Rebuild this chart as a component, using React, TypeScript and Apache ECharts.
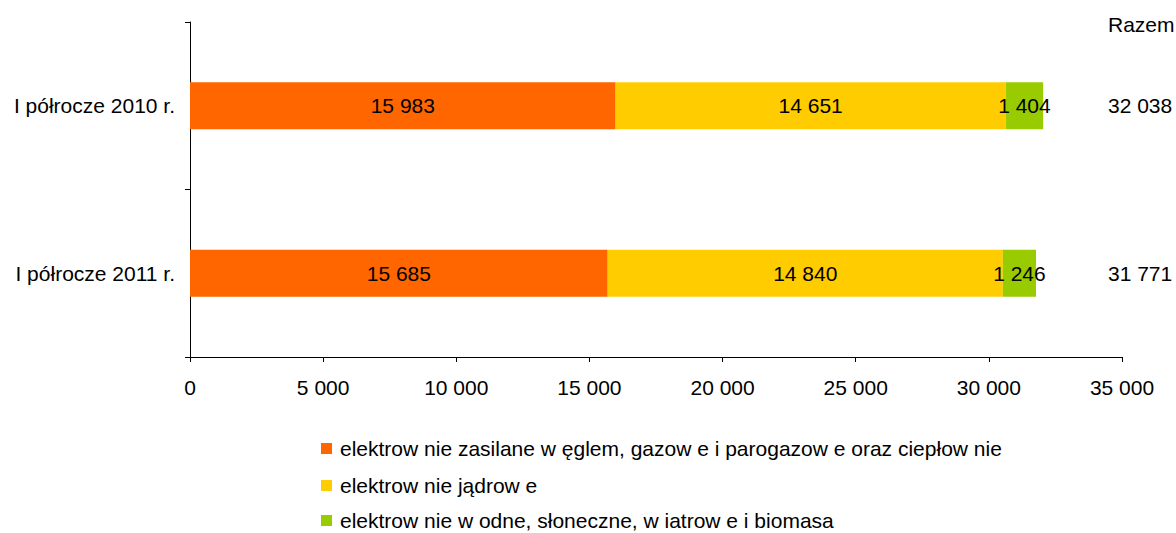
import React, { useEffect, useRef } from "react";
import * as echarts from "echarts";

const categories = ["I półrocze 2010 r.", "I półrocze 2011 r."];
const seriesNames = [
  "elektrow nie zasilane w ęglem, gazow e i parogazow e oraz ciepłow nie",
  "elektrow nie jądrow e",
  "elektrow nie w odne, słoneczne, w iatrow e i biomasa",
];
const thermal = [15983, 15685];
const nuclear = [14651, 14840];
const renewable = [1404, 1246];
const totals = [32038, 31771];
const colors = ["#FF6600", "#FFCC00", "#99CC00"];
const totalTitle = "Razem";

const fmt = (v: number) => String(v).replace(/\B(?=(\d{3})+(?!\d))/g, " ");
const FONT = "Liberation Sans, Arial, sans-serif";
const FS = 21;
const legendTops = [438, 475, 510];

export default function App() {
  const ref = useRef<HTMLDivElement>(null);
  useEffect(() => {
    if (!ref.current) return;
    const chart = echarts.init(ref.current, null, { renderer: "svg" });
    const values = [thermal, nuclear, renewable];
    chart.setOption({
      animation: false,
      textStyle: { fontFamily: FONT },
      grid: { left: 190, right: 54, top: 22, bottom: 176, containLabel: false },
      xAxis: {
        type: "value",
        min: 0,
        max: 35000,
        interval: 5000,
        axisLine: { show: true, lineStyle: { color: "#000", width: 1 } },
        axisTick: { show: true, length: 5, lineStyle: { color: "#000" } },
        splitLine: { show: false },
        axisLabel: { color: "#000", fontSize: FS, margin: 20, formatter: (v: number) => fmt(v), fontFamily: FONT },
      },
      yAxis: [
        {
          type: "category",
          data: categories,
          inverse: true,
          axisLine: { show: true, lineStyle: { color: "#000", width: 1 } },
          axisTick: { show: true, length: 5, lineStyle: { color: "#000" } },
          axisLabel: { color: "#000", fontSize: FS, margin: 15, fontFamily: FONT },
        },
        {
          type: "category",
          data: totals.map(fmt),
          inverse: true,
          position: "right",
          offset: -14,
          axisLine: { show: false },
          axisTick: { show: false },
          axisLabel: { color: "#000", fontSize: FS, margin: 0, align: "left", fontFamily: FONT },
        },
      ],
      legend: seriesNames.map((name, i) => ({
        orient: "vertical",
        left: 321,
        top: legendTops[i],
        padding: 0,
        itemWidth: 11,
        itemHeight: 11,
        icon: "rect",
        data: [name],
        textStyle: { color: "#000", fontSize: FS, fontFamily: FONT, padding: [0, 0, 0, 3] },
      })),
      graphic: [
        {
          type: "text",
          left: 1108,
          top: 14,
          style: { text: totalTitle, fill: "#000", font: `${FS}px ${FONT}` },
        },
      ],
      series: seriesNames.map((name, i) => ({
        name,
        type: "bar",
        stack: "total",
        barWidth: 47,
        itemStyle: { color: colors[i] },
        label: {
          show: true,
          position: "inside",
          color: "#000",
          fontSize: FS,
          fontFamily: FONT,
          formatter: (p: any) => fmt(p.value),
        },
        data: values[i],
      })),
    });
    return () => chart.dispose();
  }, []);
  return <div ref={ref} style={{ width: 1176, height: 533, position: "absolute", left: 0, top: 0 }} />;
}
